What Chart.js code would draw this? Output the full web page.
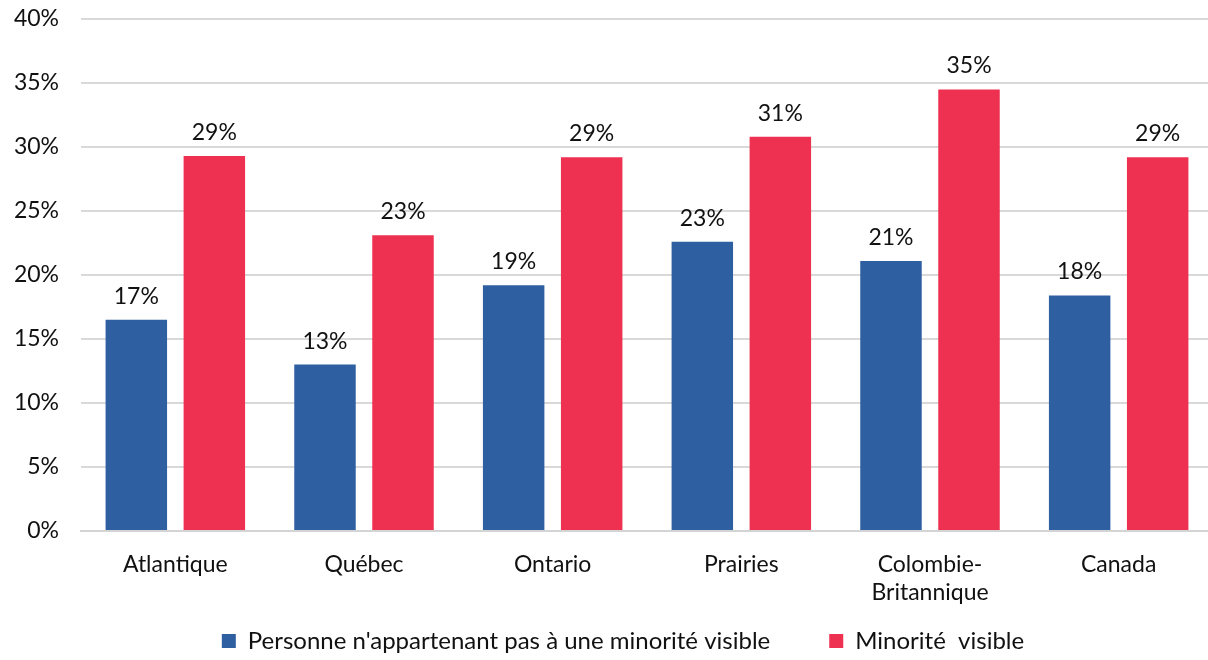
<!DOCTYPE html>
<html lang="fr">
<head>
<meta charset="utf-8">
<script src="https://cdn.jsdelivr.net/npm/chart.js@4"></script>
<style>
  html, body { margin: 0; padding: 0; background: #fff; }
  #wrap { width: 1208px; height: 660px; }
</style>
</head>
<body>
<div id="wrap"><canvas id="regionsChart"></canvas></div>
<script>
// Régions et pourcentages par groupe
const regions = ["Atlantique", "Québec", "Ontario", "Prairies", ["Colombie-", "Britannique"], "Canada"];
const nonMinorite = [16.5, 13.0, 19.2, 22.6, 21.1, 18.4];
const minoriteVisible = [29.3, 23.1, 29.2, 30.8, 34.5, 29.2];
const yTicks = [0, 5, 10, 15, 20, 25, 30, 35, 40];

const FONT = "Lato, 'Noto Sans', sans-serif";

// Étiquettes de valeur au-dessus des barres
const valueLabels = {
    id: 'valueLabels',
    afterDatasetsDraw(chart) {
        const ctx = chart.ctx;
        ctx.save();
        ctx.font = "23px " + FONT;
        ctx.fillStyle = "#111";
        ctx.textAlign = "center";
        ctx.textBaseline = "bottom";
        chart.data.datasets.forEach((ds, i) => {
            chart.getDatasetMeta(i).data.forEach((bar, j) => {
                ctx.fillText(Math.round(ds.data[j]) + "%", bar.x, bar.y - 12);
            });
        });
        ctx.restore();
    }
};

// Petits ajustements de mise en page : légende un peu décalée à droite,
// zone de tracé qui déborde de quelques pixels à droite,
// et libellés de l'axe x autorisés à descendre sur la zone de la légende
const EXTRA_RIGHT = 5;
const layoutTweaks = {
    id: 'layoutTweaks',
    afterLayout(chart) {
        chart.legend.left += 19;
        chart.legend.right += 19;
        const x = chart.scales.x;
        x.right += EXTRA_RIGHT;
        x.width += EXTRA_RIGHT;
        x.configure();
        chart.chartArea.right += EXTRA_RIGHT;
        chart.chartArea.width += EXTRA_RIGHT;
        x.bottom = chart.height;
    }
};

const ctx = document.getElementById('regionsChart').getContext('2d');
const regionsChart = new Chart(ctx, {
    type: 'bar',
    data: {
        labels: regions,
        datasets: [{
            label: "Personne n'appartenant pas à une minorité visible",
            data: nonMinorite,
            backgroundColor: "#2E5FA1"
        }, {
            label: "Minorité  visible",
            data: minoriteVisible,
            backgroundColor: "#EE3150"
        }]
    },
    options: {
        responsive: true,
        maintainAspectRatio: false,
        animation: false,
        layout: { padding: { top: 0, right: 0, left: 0, bottom: -3 } },
        datasets: {
            bar: { categoryPercentage: 0.827, barPercentage: 0.788 }
        },
        plugins: {
            legend: {
                position: 'bottom',
                labels: {
                    color: "#111",
                    font: { family: FONT, size: 24 },
                    boxWidth: 14,
                    boxHeight: 14,
                    padding: 59
                }
            },
            tooltip: { enabled: false }
        },
        scales: {
            x: {
                grid: { display: false, drawTicks: false },
                border: { color: "#d4d4d4", width: 2 },
                ticks: {
                    color: "#111",
                    font: { family: FONT, size: 23, lineHeight: 1.2 },
                    padding: 20,
                    maxRotation: 0
                },
                afterFit(scale) { scale.height = 39; }
            },
            y: {
                min: 0,
                max: 40,
                afterBuildTicks(scale) {
                    scale.ticks = yTicks.map(v => ({ value: v }));
                },
                grid: { color: "#d9d9d9", lineWidth: 2, drawTicks: false },
                border: { display: false },
                ticks: {
                    color: "#111",
                    font: { family: FONT, size: 23 },
                    padding: 22,
                    callback: v => v + "%"
                },
                afterFit(scale) {
                    scale.width = 81;
                    scale.paddingTop = 19;
                    scale.paddingBottom = 0;
                }
            }
        }
    },
    plugins: [valueLabels, layoutTweaks]
});
</script>
</body>
</html>
